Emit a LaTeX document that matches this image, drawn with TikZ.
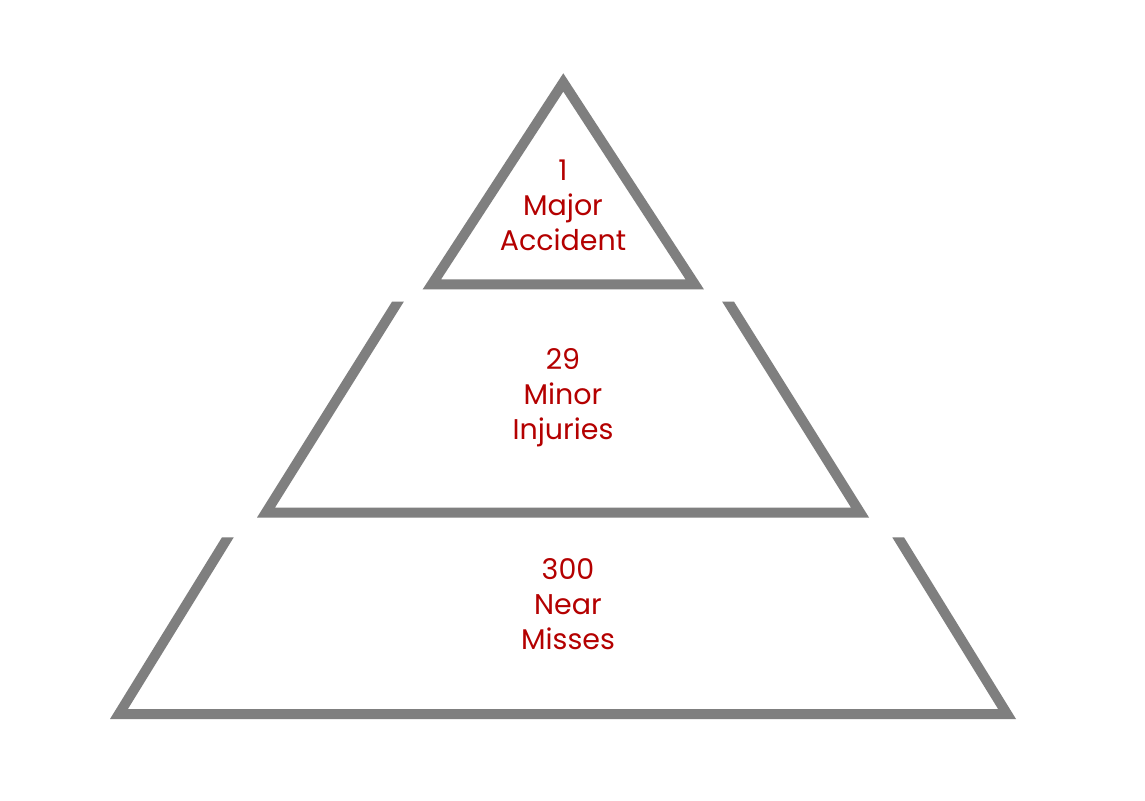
\documentclass[tikz,border=0pt]{standalone}
\usepackage{fontspec}
\setmainfont{Poppins}
\definecolor{bandgray}{HTML}{7F7F7F}
\definecolor{labelred}{HTML}{B40000}
\tikzset{
  band/.style={fill=bandgray, draw=none},
  tierlabel/.style={text=labelred, align=center, inner sep=0pt,
    font=\fontsize{28.5}{35}\selectfont}
}
\begin{document}
\begin{tikzpicture}[x=1pt,y=-1pt]
\useasboundingbox[fill=white] (0,0) rectangle (1145,800);
% top triangle (ring)
\fill[band, even odd rule]
  (563.3,73.3) -- (422.7,289.3) -- (703.9,289.3) -- cycle
  (563.3,91.6) -- (441.1,279.3) -- (685.5,279.3) -- cycle;
% middle trapezoid (open at top)
\fill[band]
  (392,301.7) -- (257,517.5) -- (869,517.5) -- (734,301.7)
  -- (722.2,301.7) -- (850.95,507.5) -- (275.05,507.5) -- (403.8,301.7) -- cycle;
% bottom trapezoid (open at top)
\fill[band]
  (222,537.3) -- (110,719) -- (1016,719) -- (904,537.3)
  -- (892.25,537.3) -- (998.1,709) -- (127.9,709) -- (233.75,537.3) -- cycle;
% labels
\node[tierlabel] (top) at (563,205.5) {1\\Major\\Accident};
\node[tierlabel] (mid) at (563,397.5) {29\\Minor\\Injuries};
\node[tierlabel] (bot) at (568,604) {300\\Near\\Misses};
\end{tikzpicture}
\end{document}
